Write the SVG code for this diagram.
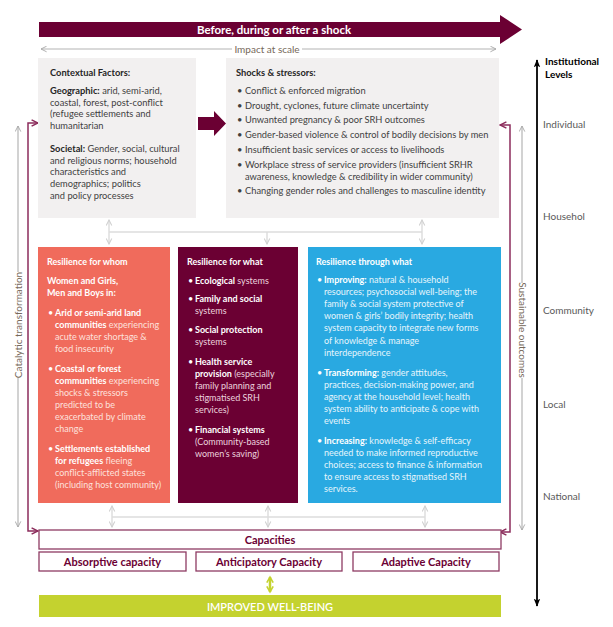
<svg xmlns="http://www.w3.org/2000/svg" width="613" height="627" viewBox="0 0 613 627">
<defs>
<style>
text{font-family:Lato,"Liberation Sans",sans-serif;}
.t{font-size:9px;}
.g{font-size:9.3px;}
.dk{fill:#3f3f3f;}
.hd{fill:#262626;font-weight:700;}
.b{font-weight:700;}
.w{fill:#ffffff;}
.rp{fill:#fde1dc;}
.mp{fill:#ecd3de;}
.bp{fill:#e6f5fc;}
.lvl{font-size:10px;fill:#595959;}
.side{font-size:10px;fill:#76685a;}
.cap{font-size:11px;font-weight:700;fill:#6b0033;}
.gbox{fill:#f2f0f0;}
.cbox{fill:#ffffff;stroke:#8e3b63;stroke-width:1.3;}
.garr{fill:none;stroke:#dcdcdc;stroke-width:1.4;}
.marr{fill:none;stroke:#8c2d5c;stroke-width:1.5;}
.sarr{fill:none;stroke:#b4b4b4;stroke-width:1.2;}
</style>
<marker id="gh" viewBox="0 0 10 10" refX="9" refY="5" markerWidth="7" markerHeight="7" markerUnits="userSpaceOnUse" orient="auto-start-reverse">
<path d="M1,1 L9,5 L1,9" fill="none" stroke="#d0d0d0" stroke-width="1.5"/>
</marker>
<marker id="sh" viewBox="0 0 10 10" refX="9" refY="5" markerWidth="7" markerHeight="7" markerUnits="userSpaceOnUse" orient="auto-start-reverse">
<path d="M1,1 L9,5 L1,9" fill="none" stroke="#a8a8a8" stroke-width="1.3"/>
</marker>
<marker id="mh" viewBox="0 0 10 10" refX="9" refY="5" markerWidth="8" markerHeight="8" markerUnits="userSpaceOnUse" orient="auto-start-reverse">
<path d="M1,1 L9,5 L1,9" fill="none" stroke="#8c2d5c" stroke-width="1.8"/>
</marker>
<marker id="kh" viewBox="0 0 10 10" refX="9" refY="5" markerWidth="8" markerHeight="8" markerUnits="userSpaceOnUse" orient="auto-start-reverse">
<path d="M0,1 L10,5 L0,9 L2,5 Z" fill="#000"/>
</marker>
<marker id="lh" viewBox="0 0 10 10" refX="8" refY="5" markerWidth="8" markerHeight="8" markerUnits="userSpaceOnUse" orient="auto-start-reverse">
<path d="M1,1 L8,5 L1,9" fill="none" stroke="#c4d22f" stroke-width="2"/>
</marker>
</defs>
<rect width="613" height="627" fill="#ffffff"/>

<g id="connectors">
<polygon points="39,22 500,22 500,15 522,29.5 500,44 500,37 39,37" fill="#6b0033"/>
<path d="M232,49 H41" class="sarr" marker-end="url(#sh)"/>
<path d="M302,49 H496" class="sarr" marker-end="url(#sh)"/>
<polygon points="198,117 214,117 214,111 226,123.5 214,136 214,130 198,130" fill="#6b0033"/>
<path d="M109,220 V244" class="garr" marker-start="url(#gh)" marker-end="url(#gh)"/>
<path d="M109,232 H422" class="garr"/>
<path d="M267,232 V244" class="garr" marker-end="url(#gh)"/>
<path d="M422,220 V244" class="garr" marker-start="url(#gh)" marker-end="url(#gh)"/>
<path d="M112,506 V527" class="garr" marker-start="url(#gh)" marker-end="url(#gh)"/>
<path d="M268,506 V527" class="garr" marker-start="url(#gh)" marker-end="url(#gh)"/>
<path d="M425,506 V527" class="garr" marker-start="url(#gh)" marker-end="url(#gh)"/>
<path d="M112,517 H425" class="garr"/>
<path d="M38,123 H28 V531 H38" class="marr" marker-start="url(#mh)" marker-end="url(#mh)"/>
<path d="M500,125 H510 V532 H500" class="marr" marker-start="url(#mh)" marker-end="url(#mh)"/>
<path d="M18,272 V126" class="sarr" marker-end="url(#sh)"/>
<path d="M18,378 V527" class="sarr" marker-end="url(#sh)"/>
<path d="M522,283 V126" class="sarr" marker-end="url(#sh)"/>
<path d="M522,378 V530" class="sarr" marker-end="url(#sh)"/>
<path d="M537,60 V606" fill="none" stroke="#000" stroke-width="1.8" marker-start="url(#kh)" marker-end="url(#kh)"/>
<path d="M270,577 V592" fill="none" stroke="#c4d22f" stroke-width="2.5" marker-start="url(#lh)" marker-end="url(#lh)"/>
</g>

<g id="banner-text">
<text x="274" y="33.5" text-anchor="middle" font-size="11.5" font-weight="700" fill="#ffffff">Before, during or after a shock</text>
<text x="267" y="52.5" text-anchor="middle" class="side">Impact at scale</text>
<text transform="rotate(-90 18 325)" x="18" y="328.5" text-anchor="middle" class="side">Catalytic transformation</text>
<text transform="rotate(90 522 330)" x="522" y="333.5" text-anchor="middle" class="side">Sustainable outcomes</text>
</g>

<g id="contextual">
<rect x="38" y="58" width="158" height="160" class="gbox"/>
<text class="g hd" x="50" y="76">Contextual Factors:</text>
<text class="g dk" x="50" y="94"><tspan class="hd">Geographic:</tspan> arid, semi-arid,</text>
<text class="g dk" x="50" y="105.7">coastal, forest, post-conflict</text>
<text class="g dk" x="50" y="117.4">(refugee settlements and</text>
<text class="g dk" x="50" y="129.1">humanitarian</text>
<text class="g dk" x="50" y="152"><tspan class="hd">Societal:</tspan> Gender, social, cultural</text>
<text class="g dk" x="50" y="163.7">and religious norms; household</text>
<text class="g dk" x="50" y="175.4">characteristics and</text>
<text class="g dk" x="50" y="187.1">demographics; politics</text>
<text class="g dk" x="50" y="198.8">and policy processes</text>
</g>

<g id="shocks">
<rect x="226" y="58" width="273" height="160" class="gbox"/>
<text class="g hd" x="236" y="76">Shocks &amp; stressors:</text>
<g class="g dk">
<text x="237" y="94">•</text><text x="245" y="94">Conflict &amp; enforced migration</text>
<text x="237" y="109">•</text><text x="245" y="109">Drought, cyclones, future climate uncertainty</text>
<text x="237" y="123">•</text><text x="245" y="123">Unwanted pregnancy &amp; poor SRH outcomes</text>
<text x="237" y="138">•</text><text x="245" y="138">Gender-based violence &amp; control of bodily decisions by men</text>
<text x="237" y="153">•</text><text x="245" y="153">Insufficient basic services or access to livelihoods</text>
<text x="237" y="168">•</text><text x="245" y="168">Workplace stress of service providers (insufficient SRHR</text>
<text x="245" y="180">awareness, knowledge &amp; credibility in wider community)</text>
<text x="237" y="194">•</text><text x="245" y="194">Changing gender roles and challenges to masculine identity</text>
</g>
</g>

<g id="resilience-whom">
<rect x="38" y="247" width="132" height="256" fill="#f06b5c"/>
<g class="t">
<text x="47" y="265" class="w b">Resilience for whom</text>
<text x="47" y="284" class="w b">Women and Girls,</text>
<text x="47" y="296" class="w b">Men and Boys in:</text>
<text x="48" y="316" class="w">•</text><text x="55" y="316" class="w b">Arid or semi-arid land</text>
<text x="55" y="328" class="rp"><tspan class="w b">communities</tspan> experiencing</text>
<text x="55" y="340" class="rp">acute water shortage &amp;</text>
<text x="55" y="352" class="rp">food insecurity</text>
<text x="48" y="372" class="w">•</text><text x="55" y="372" class="w b">Coastal or forest</text>
<text x="55" y="384" class="rp"><tspan class="w b">communities</tspan> experiencing</text>
<text x="55" y="396" class="rp">shocks &amp; stressors</text>
<text x="55" y="408" class="rp">predicted to be</text>
<text x="55" y="420" class="rp">exacerbated by climate</text>
<text x="55" y="432" class="rp">change</text>
<text x="48" y="452" class="w">•</text><text x="55" y="452" class="w b">Settlements established</text>
<text x="55" y="464" class="rp"><tspan class="w b">for refugees</tspan> fleeing</text>
<text x="55" y="476" class="rp">conflict-afflicted states</text>
<text x="55" y="488" class="rp">(including host community)</text>
</g>
</g>

<g id="resilience-what">
<rect x="178" y="247" width="120" height="256" fill="#6b0033"/>
<g class="t">
<text x="187" y="265" class="w b">Resilience for what</text>
<text x="188" y="284" class="w">•</text><text x="195" y="284" class="mp"><tspan class="w b">Ecological</tspan> systems</text>
<text x="188" y="302" class="w">•</text><text x="195" y="302" class="w b">Family and social</text>
<text x="195" y="314" class="mp">systems</text>
<text x="188" y="333" class="w">•</text><text x="195" y="333" class="w b">Social protection</text>
<text x="195" y="345" class="mp">systems</text>
<text x="188" y="365" class="w">•</text><text x="195" y="365" class="w b">Health service</text>
<text x="195" y="377" class="mp"><tspan class="w b">provision</tspan> (especially</text>
<text x="195" y="389" class="mp">family planning and</text>
<text x="195" y="401" class="mp">stigmatised SRH</text>
<text x="195" y="413" class="mp">services)</text>
<text x="188" y="433" class="w">•</text><text x="195" y="433" class="w b">Financial systems</text>
<text x="195" y="445" class="mp">(Community-based</text>
<text x="195" y="457" class="mp">women’s saving)</text>
</g>
</g>

<g id="resilience-through">
<rect x="308" y="247" width="193" height="256" fill="#29a9e1"/>
<g class="t">
<text x="316" y="265" class="w b">Resilience through what</text>
<text x="317" y="283" class="w">•</text><text x="324" y="283" class="bp"><tspan class="w b">Improving:</tspan> natural &amp; household</text>
<text x="324" y="295" class="bp">resources; psychosocial well-being; the</text>
<text x="324" y="307" class="bp">family &amp; social system protective of</text>
<text x="324" y="319.2" class="bp">women &amp; girls’ bodily integrity; health</text>
<text x="324" y="331.4" class="bp">system capacity to integrate new forms</text>
<text x="324" y="343.6" class="bp">of knowledge &amp; manage</text>
<text x="324" y="355.8" class="bp">interdependence</text>
<text x="317" y="376" class="w">•</text><text x="324" y="376" class="bp"><tspan class="w b">Transforming:</tspan> gender attitudes,</text>
<text x="324" y="388" class="bp">practices, decision-making power, and</text>
<text x="324" y="400" class="bp">agency at the household level; health</text>
<text x="324" y="412.2" class="bp">system ability to anticipate &amp; cope with</text>
<text x="324" y="424.4" class="bp">events</text>
<text x="317" y="444" class="w">•</text><text x="324" y="444" class="bp"><tspan class="w b">Increasing:</tspan> knowledge &amp; self-efficacy</text>
<text x="324" y="456" class="bp">needed to make informed reproductive</text>
<text x="324" y="468" class="bp">choices; access to finance &amp; information</text>
<text x="324" y="480" class="bp">to ensure access to stigmatised SRH</text>
<text x="324" y="492" class="bp">services.</text>
</g>
</g>

<g id="capacities">
<rect x="39" y="530" width="462" height="19" class="cbox"/>
<text x="270" y="544" text-anchor="middle" class="cap">Capacities</text>
</g>
<g id="absorptive">
<rect x="39" y="552" width="147" height="19" class="cbox"/>
<text x="112.5" y="566" text-anchor="middle" class="cap">Absorptive capacity</text>
</g>
<g id="anticipatory">
<rect x="196" y="552" width="146" height="19" class="cbox"/>
<text x="269" y="566" text-anchor="middle" class="cap">Anticipatory Capacity</text>
</g>
<g id="adaptive">
<rect x="353" y="552" width="146" height="19" class="cbox"/>
<text x="426" y="566" text-anchor="middle" class="cap">Adaptive Capacity</text>
</g>
<g id="wellbeing">
<rect x="39" y="595" width="462" height="22" fill="#c4d22f"/>
<text x="270" y="610.5" text-anchor="middle" font-size="11" font-weight="600" fill="#ffffff">IMPROVED WELL-BEING</text>
</g>

<g id="levels">
<text x="545" y="65" font-size="10" font-weight="700" fill="#000">Institutional</text>
<text x="545" y="78" font-size="10" font-weight="700" fill="#000">Levels</text>
<text x="543" y="127.5" class="lvl">Individual</text>
<text x="543" y="219.5" class="lvl">Househol</text>
<text x="543" y="313.5" class="lvl">Community</text>
<text x="543" y="407.5" class="lvl">Local</text>
<text x="543" y="499.5" class="lvl">National</text>
</g>
</svg>
